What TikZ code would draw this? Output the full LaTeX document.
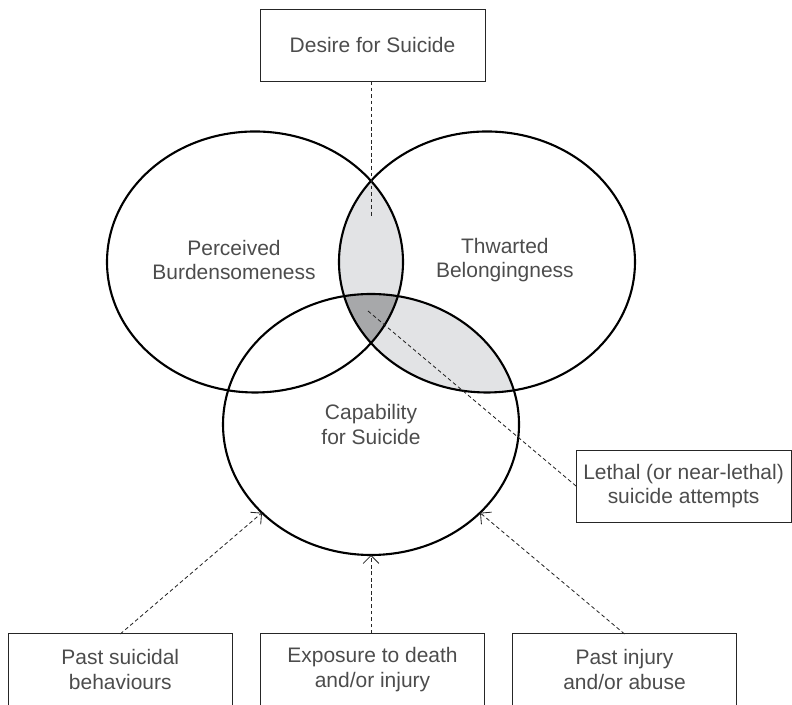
\documentclass[tikz,border=0pt]{standalone}
\usepackage{fontspec}
\setmainfont{Liberation Sans}
\usepackage{tikz}
\usepackage{xcolor}
\usetikzlibrary{shapes, arrows.meta, calc, positioning, backgrounds}
\definecolor{lensgray}{rgb}{0.886, 0.890, 0.898}
\definecolor{coregray}{rgb}{0.655, 0.659, 0.667}
\definecolor{labelgray}{rgb}{0.30, 0.30, 0.30}
\newcommand{\vennrx}{4.933}
\newcommand{\vennry}{4.35}

\begin{document}
\begin{tikzpicture}[every node/.style={font=\fontsize{19.9}{23.5}\selectfont, text=labelgray, align=center},
        venn/.style={draw=black, ellipse, line width=2pt, minimum width=9.866cm, minimum height=8.7cm, inner sep=0pt, outer sep=0pt},
        infobox/.style={minimum width=7.45cm, minimum height=2.37cm, inner sep=0pt, outer sep=0pt},
        boxline/.style={draw=black!85, line width=0.9pt},
        dashline/.style={draw=black!85, line width=0.8pt, dash pattern=on 3.6pt off 2.6pt},
        arrowline/.style={dashline, -{Straight Barb[length=7.5pt, width=15pt]}}]
        \useasboundingbox (0,0) rectangle (26.4,23.5);

        % the three circles
        \node[venn] (PB) at (8.5,14.767) {};
        \node[venn] (TB) at (16.233,14.767) {};
        \node[venn] (CS) at (12.367,9.35) {Capability\\for Suicide};
        \node (PBtext) at (7.8,14.83) {Perceived\\Burdensomeness};
        \node (TBtext) at (16.83,14.83) {Thwarted\\Belongingness};

        % shaded overlaps
        \begin{scope}[on background layer]
            \begin{scope}
                \clip (PB.center) ellipse [x radius=\vennrx, y radius=\vennry];
                \fill[lensgray] (TB.center) ellipse [x radius=\vennrx, y radius=\vennry];
            \end{scope}
            \begin{scope}
                \clip (TB.center) ellipse [x radius=\vennrx, y radius=\vennry];
                \fill[lensgray] (CS.center) ellipse [x radius=\vennrx, y radius=\vennry];
            \end{scope}
            \begin{scope}
                \clip (PB.center) ellipse [x radius=\vennrx, y radius=\vennry];
                \clip (TB.center) ellipse [x radius=\vennrx, y radius=\vennry];
                \fill[coregray] (CS.center) ellipse [x radius=\vennrx, y radius=\vennry];
            \end{scope}
        \end{scope}

        % boxes
        \node[infobox, boxline, minimum width=7.5cm, minimum height=2.4cm] (DS) at (12.417,22.0) {Desire for Suicide};
        \node[infobox, boxline, minimum width=7.17cm, minimum height=2.4cm] (LS) at (22.785,7.3) {Lethal (or near-lethal)\\suicide attempts};
        \node[infobox] (PS) at (4.01,1.183) {Past suicidal\\behaviours};
        \node[infobox] (ES) at (12.417,1.183) {Exposure to death\\and/or injury};
        \node[infobox] (PI) at (20.817,1.183) {Past injury\\and/or abuse};
        \foreach \b in {PS, ES, PI}{
            \draw[boxline] (\b.south west) |- (\b.north east) -- (\b.south east);
        }

        % connectors
        \coordinate (dend) at (12.367,16.267);
        \coordinate (core) at (12.267,13.133);
        \draw[dashline] (DS.south -| dend) -- (dend);
        \draw[dashline] (core) -- (LS.west);
        \draw[arrowline] (PS.north) -- (CS.219);
        \draw[arrowline] (ES.north -| CS.south) -- (CS.south);
        \draw[arrowline] (PI.north) -- (CS.321);
    \end{tikzpicture}
\end{document}
